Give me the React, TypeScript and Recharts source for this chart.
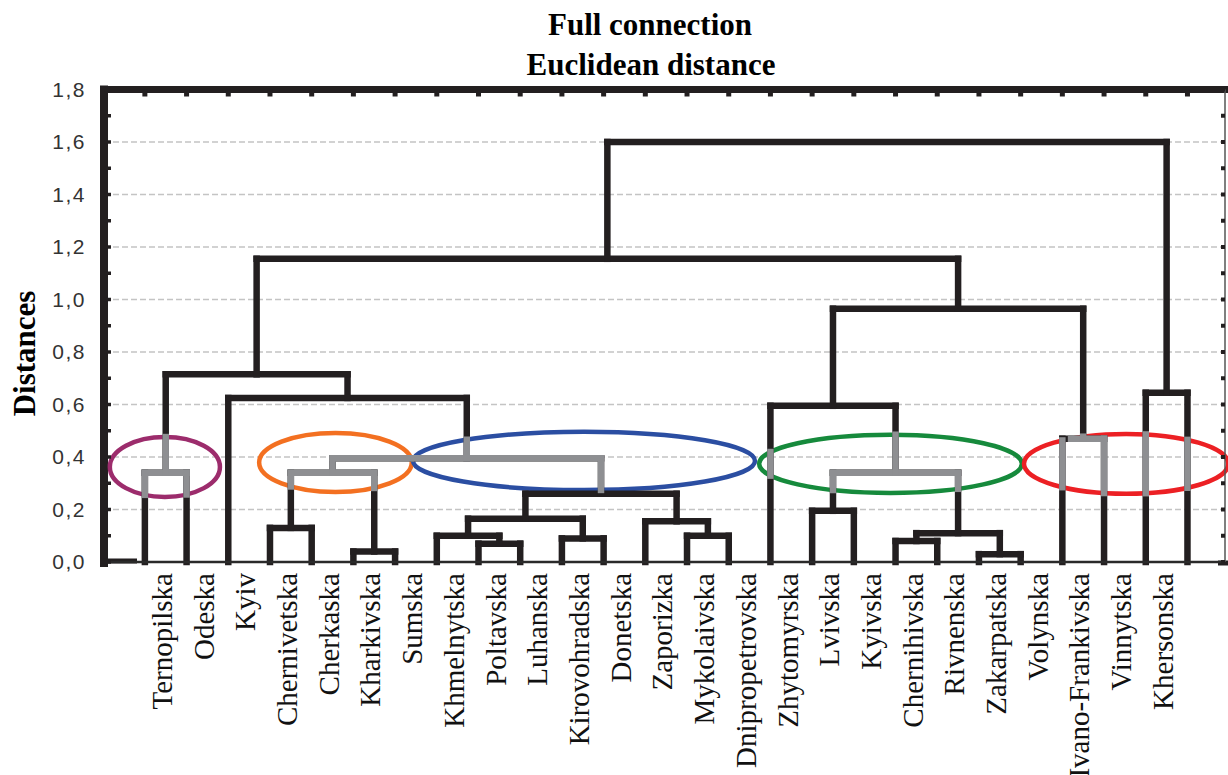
import React from 'react';
import {
  ComposedChart,
  XAxis,
  YAxis,
  CartesianGrid,
  ReferenceLine,
  ReferenceArea,
  Scatter,
} from 'recharts';

// ---------- data ----------
const regions = [
  'Ternopilska', 'Odeska', 'Kyiv', 'Chernivetska', 'Cherkaska', 'Kharkivska', 'Sumska',
  'Khmelnytska', 'Poltavska', 'Luhanska', 'Kirovohradska', 'Donetska', 'Zaporizka',
  'Mykolaivska', 'Dnipropetrovska', 'Zhytomyrska', 'Lvivska', 'Kyivska', 'Chernihivska',
  'Rivnenska', 'Zakarpatska', 'Volynska', 'Ivano-Frankivska', 'Vinnytska', 'Khersonska',
];

// leaf slots of the tree (positions along the x axis)
const leafSlots = [0, 1, 2, 3, 4, 5, 6, 7, 8, 9, 10, 11, 12, 13, 14, 15, 16, 17, 18, 19, 20, 21, 22, 23, 24, 25];

// linkage: node ids < 26 are leaves, 26+k is the k-th join
const joinA = [0, 3, 5, 27, 8, 7, 10, 31, 13, 12, 33, 29, 2, 26, 16, 18, 20, 41, 40, 15, 22, 45, 39, 24, 48];
const joinB = [1, 4, 6, 28, 9, 30, 11, 32, 14, 34, 35, 36, 37, 38, 17, 19, 21, 42, 43, 44, 23, 46, 47, 25, 49];
const joinDistance = [
  0.34, 0.13, 0.04, 0.34, 0.07, 0.10, 0.09, 0.165, 0.10, 0.155, 0.26, 0.395, 0.625, 0.715,
  0.195, 0.08, 0.03, 0.11, 0.34, 0.595, 0.47, 0.965, 1.155, 0.645, 1.6,
];

const yTicks = [0, 0.2, 0.4, 0.6, 0.8, 1.0, 1.2, 1.4, 1.6, 1.8];
const yMinorTicks = [0, 0.1, 0.2, 0.3, 0.4, 0.5, 0.6, 0.7, 0.8, 0.9, 1.0, 1.1, 1.2, 1.3, 1.4, 1.5, 1.6, 1.7, 1.8];

// highlighted groups (ellipses): centre in leaf units / distance, half-extents
const rings = [
  { cx: 0.48, cy: 0.362, rx: 1.32, ry: 0.114, color: '#9c2c6c' },
  { cx: 4.57, cy: 0.379, rx: 1.83, ry: 0.1125, color: '#f37021' },
  { cx: 10.53, cy: 0.385, rx: 4.1, ry: 0.111, color: '#2b4ea2' },
  { cx: 17.88, cy: 0.374, rx: 3.15, ry: 0.111, color: '#168a3c' },
  { cx: 23.53, cy: 0.374, rx: 2.45, ry: 0.114, color: '#ec2024' },
];

// ---------- layout / style ----------
const LABEL_SHIFT = 0.65;
const X_DOMAIN: [number, number] = [-0.98, 25.9];
const INK = '#231f20';
const GREY = '#8e8f92';
const LINE_W = 6.5;

type Piece = { x1: number; y1: number; x2: number; y2: number };

const nodeX: number[] = leafSlots.slice();
const nodeH: number[] = leafSlots.map(() => 0);
const blackPieces: Piece[] = [];
joinA.forEach((a, k) => {
  const b = joinB[k];
  const h = joinDistance[k];
  blackPieces.push({ x1: nodeX[a], y1: nodeH[a], x2: nodeX[a], y2: h });
  blackPieces.push({ x1: nodeX[b], y1: nodeH[b], x2: nodeX[b], y2: h });
  blackPieces.push({ x1: nodeX[a], y1: h, x2: nodeX[b], y2: h });
  nodeX.push((nodeX[a] + nodeX[b]) / 2);
  nodeH.push(h);
});

const greyPieces: Piece[] = [];
blackPieces.forEach((p) => {
  rings.forEach((r) => {
    if (p.x1 === p.x2) {
      const t = (p.x1 - r.cx) / r.rx;
      if (Math.abs(t) < 1) {
        const half = r.ry * Math.sqrt(1 - t * t);
        const lo = Math.max(Math.min(p.y1, p.y2), r.cy - half);
        const hi = Math.min(Math.max(p.y1, p.y2), r.cy + half);
        if (hi > lo) greyPieces.push({ x1: p.x1, y1: lo, x2: p.x1, y2: hi });
      }
    } else {
      const t = (p.y1 - r.cy) / r.ry;
      if (Math.abs(t) < 1) {
        const half = r.rx * Math.sqrt(1 - t * t);
        const lo = Math.max(Math.min(p.x1, p.x2), r.cx - half);
        const hi = Math.min(Math.max(p.x1, p.x2), r.cx + half);
        if (hi > lo) greyPieces.push({ x1: lo, y1: p.y1, x2: hi, y2: p.y1 });
      }
    }
  });
});

const leafRows = leafSlots.map((i) => ({ x: i, y: 0 }));
const labelTicks = regions.map((_, i) => i + LABEL_SHIFT);

const LeafLabel = (props: any) => {
  const { x, y, payload } = props;
  const idx = Math.round(payload.value - LABEL_SHIFT);
  const name = regions[idx] ?? '';
  return (
    <text
      transform={`translate(${x},${y + 11}) rotate(-90)`}
      textAnchor="end"
      fontFamily="'Liberation Serif', 'Times New Roman', serif"
      fontSize={29}
      fill="#111"
    >
      {name}
    </text>
  );
};

const segShape = (color: string) => (props: any) => {
  const { x1, y1, x2, y2 } = props;
  return (
    <line x1={x1} y1={y1} x2={x2} y2={y2} stroke={color} strokeWidth={LINE_W} strokeLinecap="square" />
  );
};

const ringShape = (color: string) => (props: any) => {
  const { x, y, width, height } = props;
  return (
    <ellipse
      cx={x + width / 2}
      cy={y + height / 2}
      rx={Math.abs(width) / 2}
      ry={Math.abs(height) / 2}
      fill="none"
      stroke={color}
      strokeWidth={4.5}
    />
  );
};

// thick frame on the left and top of the plot
const frameShape = (props: any) => {
  const { x, y, width, height } = props;
  const left = Math.min(x, x + width);
  const top = Math.min(y, y + height);
  const bottom = Math.max(y, y + height);
  return (
    <g>
      <line x1={left} y1={bottom + 1} x2={left} y2={top} stroke={INK} strokeWidth={8} strokeLinecap="square" />
      <line x1={left} y1={top} x2={1228} y2={top} stroke={INK} strokeWidth={7} />
      <line x1={left - 3} y1={bottom - 1} x2={left + 33} y2={bottom - 1} stroke={INK} strokeWidth={5} />
      <line x1={1218} y1={bottom + 1} x2={1228} y2={bottom + 1} stroke={INK} strokeWidth={5} />
    </g>
  );
};

export default function App() {
  return (
    <div style={{ position: 'absolute', left: 0, top: 0, width: 1228, height: 775, overflow: 'hidden', background: '#fff' }}>
      <ComposedChart width={1228} height={775} data={leafRows} margin={{ top: 89.5, right: 3, bottom: 0, left: 44 }}>
        <CartesianGrid vertical={false} stroke="#c4c4c4" strokeDasharray="6 3" strokeWidth={1.5} />
        <XAxis
          xAxisId={0}
          dataKey="x"
          type="number"
          domain={X_DOMAIN}
          allowDataOverflow
          ticks={labelTicks}
          interval={0}
          height={213}
          axisLine={{ stroke: '#2a2a2a', strokeWidth: 2.5 }}
          tickLine={false}
          tickSize={0}
          tickMargin={0}
          tick={<LeafLabel />}
        />
        <XAxis
          xAxisId="top"
          orientation="top"
          mirror
          dataKey="x"
          type="number"
          domain={X_DOMAIN}
          allowDataOverflow
          ticks={leafSlots}
          interval={0}
          axisLine={false}
          tickLine={{ stroke: INK, strokeWidth: 5 }}
          tickSize={7}
          tickFormatter={() => ''}
        />
        <YAxis
          yAxisId={0}
          type="number"
          domain={[0, 1.8]}
          allowDataOverflow
          ticks={yTicks}
          interval={0}
          width={60}
          axisLine={false}
          tickLine={false}
          tickSize={6}
          tickMargin={12}
          tick={{ fill: '#333', fontSize: 21, fontFamily: "'Liberation Sans', Arial, sans-serif", letterSpacing: 1.5 }}
          tickFormatter={(v: number) => v.toFixed(1).replace('.', ',')}
        />
        <YAxis
          yAxisId="minor"
          mirror
          type="number"
          domain={[0, 1.8]}
          allowDataOverflow
          ticks={yMinorTicks}
          interval={0}
          axisLine={false}
          tickLine={{ stroke: INK, strokeWidth: 3.5 }}
          tickSize={7}
          tickFormatter={() => ''}
        />
        <YAxis
          yAxisId="right"
          orientation="right"
          mirror
          type="number"
          domain={[0, 1.8]}
          allowDataOverflow
          ticks={yMinorTicks}
          interval={0}
          axisLine={{ stroke: '#555', strokeWidth: 1.5 }}
          tickLine={{ stroke: INK, strokeWidth: 4 }}
          tickSize={4}
          tickFormatter={() => ''}
        />
        <Scatter dataKey="y" isAnimationActive={false} shape={() => <g />} />
        <ReferenceArea x1={X_DOMAIN[0]} x2={X_DOMAIN[1]} y1={0} y2={1.8} ifOverflow="visible" shape={frameShape} />
        {blackPieces.map((p, i) => (
          <ReferenceLine
            key={`b${i}`}
            segment={[{ x: p.x1, y: p.y1 }, { x: p.x2, y: p.y2 }]}
            stroke={INK}
            strokeWidth={LINE_W}
            ifOverflow="visible"
            shape={segShape(INK)}
          />
        ))}
        {greyPieces.map((p, i) => (
          <ReferenceLine
            key={`g${i}`}
            segment={[{ x: p.x1, y: p.y1 }, { x: p.x2, y: p.y2 }]}
            stroke={GREY}
            strokeWidth={LINE_W}
            ifOverflow="visible"
            shape={segShape(GREY)}
          />
        ))}
        {rings.map((r, i) => (
          <ReferenceArea
            key={`r${i}`}
            x1={r.cx - r.rx}
            x2={r.cx + r.rx}
            y1={r.cy - r.ry}
            y2={r.cy + r.ry}
            ifOverflow="visible"
            shape={ringShape(r.color)}
          />
        ))}
      </ComposedChart>
      <svg width={1228} height={775} style={{ position: 'absolute', left: 0, top: 0, pointerEvents: 'none' }}>
        <g fontFamily="'Liberation Serif', 'Times New Roman', serif" fontWeight="bold" fontSize={31} fill="#000">
          <text x={650} y={35} textAnchor="middle">Full connection</text>
          <text x={651} y={75} textAnchor="middle">Euclidean distance</text>
          <text transform="translate(35,353.5) rotate(-90)" textAnchor="middle">Distances</text>
        </g>
      </svg>
    </div>
  );
}
